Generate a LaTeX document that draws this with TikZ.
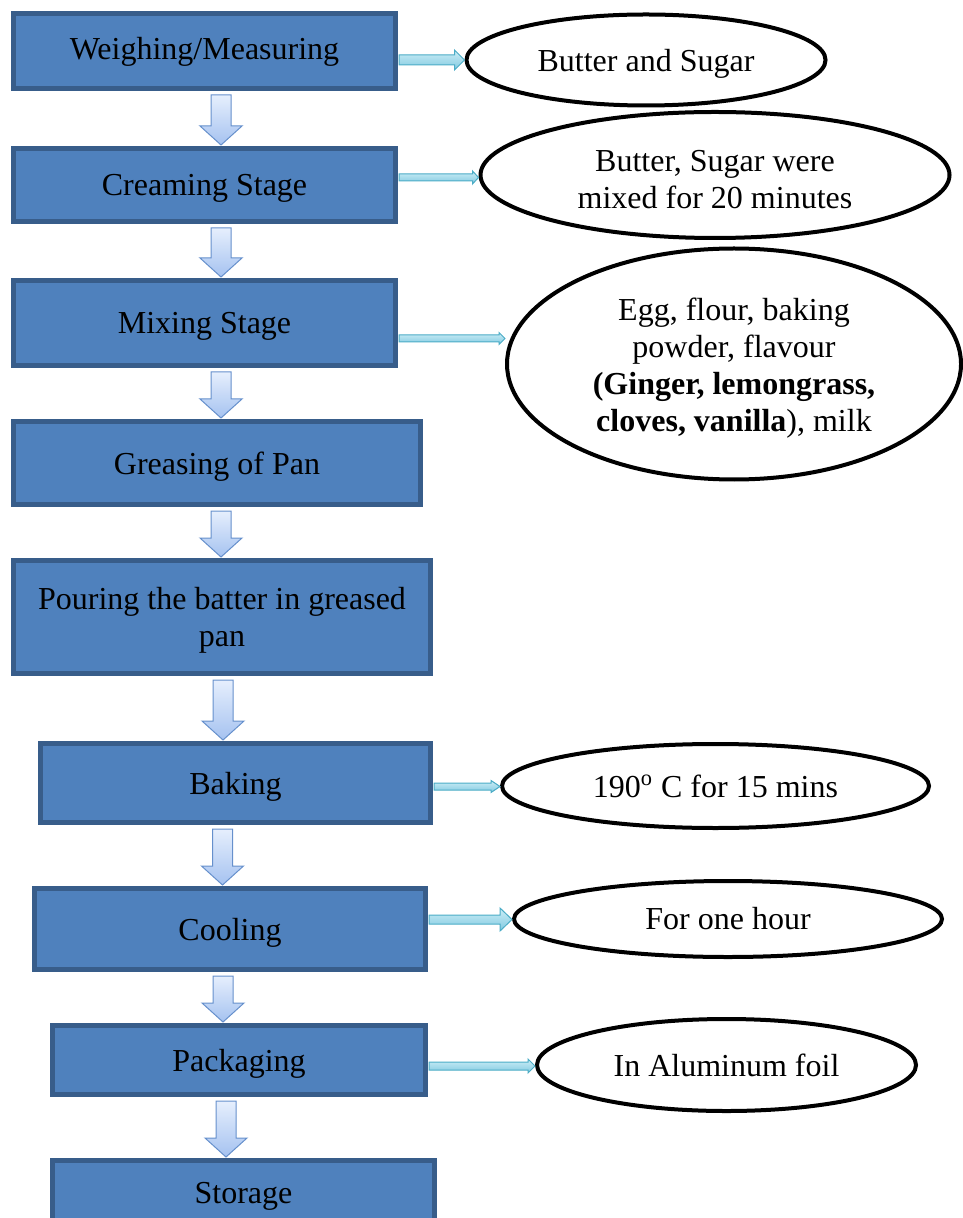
\documentclass[tikz,border=0pt]{standalone}
\usepackage{fontspec}
\setmainfont{Liberation Serif}
\usetikzlibrary{shapes.geometric,calc}
\definecolor{boxfill}{HTML}{4F81BD}
\definecolor{boxline}{HTML}{385D8A}
\definecolor{downtop}{HTML}{E6EFFD}
\definecolor{downbot}{HTML}{A5C2F0}
\definecolor{downline}{HTML}{6690CC}
\definecolor{sidetop}{HTML}{CDEEF7}
\definecolor{sidebot}{HTML}{80C9E0}
\definecolor{sideline}{HTML}{4BACC6}
% block arrow going down: x, upper node, lower node
\newcommand\flowdown[3]{%
  \path (#1,0 |- #2.south) coordinate (s) (#1,0 |- #3.north) coordinate (t);
  \draw[downarr] ($(s)+(-10,4)$) -- ($(s)+(10,4)$) -- ($(t)+(10,-20)$) -- ($(t)+(21,-20)$)
    -- ($(t)+(0,-1)$) -- ($(t)+(-21,-20)$) -- ($(t)+(-10,-20)$) -- cycle;}
% block arrow going right: y, left node, right node, shaft, head, head length
\newcommand\flowright[6]{%
  \path (#2.east |- 0,#1) coordinate (s) (#3.west |- 0,#1) coordinate (t);
  \draw[sidearr] ($(s)+(1,-#4)$) -- ($(t)+(-#6,-#4)$) -- ($(t)+(-#6,-#5)$) -- (t)
    -- ($(t)+(-#6,#5)$) -- ($(t)+(-#6,#4)$) -- ($(s)+(1,#4)$) -- cycle;}
\begin{document}
\begin{tikzpicture}[x=0.5pt,y=-0.5pt,
    font=\fontsize{16}{18.5}\selectfont,
    stage/.style={rectangle,fill=boxfill,draw=boxline,line width=2.5pt,inner sep=0pt,align=center,text depth=-0.5pt},
    note/.style={ellipse,draw=black,line width=2pt,fill=white,inner sep=0pt,align=center},
    downarr/.style={draw=downline,line width=0.5pt,top color=downtop,bottom color=downbot,line join=miter},
    sidearr/.style={draw=sideline,line width=0.5pt,top color=sidetop,bottom color=sidebot,line join=miter}]
  \useasboundingbox (0,0) rectangle (962,1218);
  %\draw[gray,very thin,step=50] (0,0) grid (962,1218);
  \node[stage,minimum width=191pt,minimum height=37.5pt,text depth=3pt] (weigh) at (204.5,51) {Weighing/Measuring};
  \node[stage,minimum width=191pt,minimum height=36.5pt] (cream) at (204.5,185) {Creaming Stage};
  \node[stage,minimum width=191pt,minimum height=42.5pt] (mix) at (204.5,323) {Mixing Stage};
  \node[stage,minimum width=203.5pt,minimum height=41.5pt] (grease) at (217,463) {Greasing of Pan};
  \node[stage,minimum width=208.5pt,minimum height=56.5pt] (pour) at (222,617) {Pouring the batter in greased\\pan};
  \node[stage,minimum width=195pt,minimum height=39.5pt] (bake) at (235.5,783) {Baking};
  \node[stage,minimum width=195.5pt,minimum height=40.5pt] (cool) at (230,929) {Cooling};
  \node[stage,minimum width=186.5pt,minimum height=34.5pt] (pack) at (239,1060) {Packaging};
  \node[stage,minimum width=191pt,minimum height=32.5pt] (store) at (243.5,1193) {Storage};

  \node[note,minimum width=179.5pt,minimum height=45.5pt,text depth=-1pt] (butter) at (646,60) {Butter and Sugar};
  \node[note,minimum width=234.5pt,minimum height=63pt] (mixed) at (715,175) {\rule{0pt}{15.6pt}Butter, Sugar were\\mixed for 20 minutes};
  \node[note,minimum width=227pt,minimum height=115.5pt] (egg) at (734,364)
    {\rule{0pt}{15pt}Egg, flour, baking\\powder, flavour\\\textbf{(Ginger, lemongrass,}\\\textbf{cloves, vanilla}), milk};
  \node[note,minimum width=213.5pt,minimum height=42pt,text depth=-1pt] (heat) at (715.5,786) {190\textsuperscript{o} C for 15 mins};
  \node[note,minimum width=214pt,minimum height=38pt] (hour) at (728,919) {For one hour};
  \node[note,minimum width=189.5pt,minimum height=46pt,text depth=-1.5pt] (foil) at (726.5,1065) {In Aluminum foil};

  \flowdown{221}{weigh}{cream}
  \flowdown{221}{cream}{mix}
  \flowdown{221}{mix}{grease}
  \flowdown{221}{grease}{pour}
  \flowdown{223}{pour}{bake}
  \flowdown{222.5}{bake}{cool}
  \flowdown{223}{cool}{pack}
  \flowdown{226}{pack}{store}

  \flowright{60}{weigh}{butter}{5}{10}{10}
  \flowright{177.5}{cream}{mixed}{3.5}{6.5}{6}
  \flowright{338.5}{mix}{egg}{3.5}{6}{6}
  \flowright{786.5}{bake}{heat}{3.5}{6}{9}
  \flowright{919.5}{cool}{hour}{4.5}{11.5}{12}
  \flowright{1066}{pack}{foil}{4}{7}{7}
\end{tikzpicture}
\end{document}
